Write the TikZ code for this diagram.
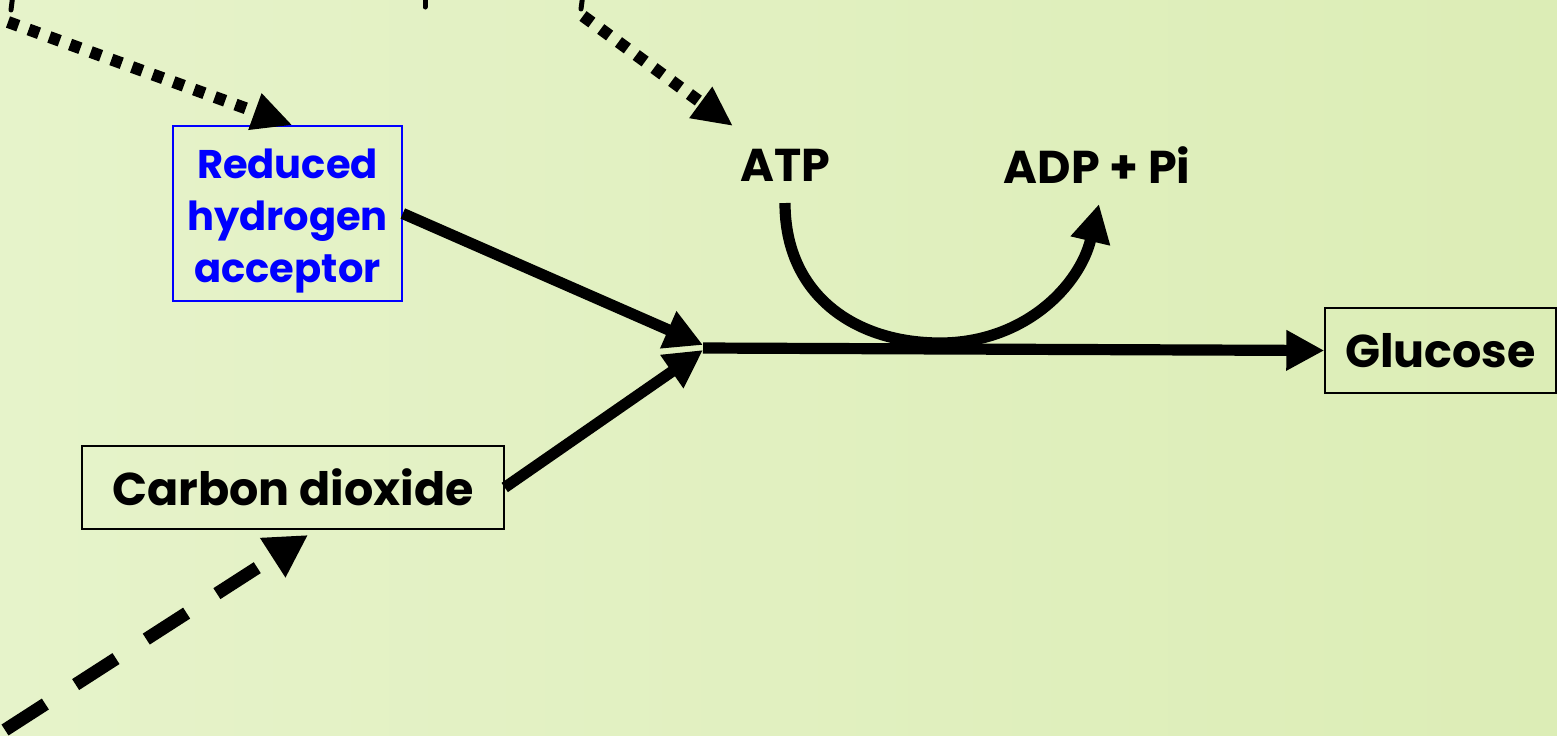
\documentclass[tikz,border=0pt]{standalone}
\usepackage{fontspec}
\setmainfont{Poppins}
\usetikzlibrary{arrows.meta}
\definecolor{bgA}{HTML}{E6F3CA}
\definecolor{bgB}{HTML}{DCEDB6}
\definecolor{boxblue}{HTML}{0000FF}
\tikzset{
  bigtext/.style={font=\bfseries\fontsize{23}{28}\selectfont, inner sep=0pt},
  blacklabel/.style={draw=black, line width=0.7pt, inner sep=0pt, font=\bfseries\fontsize{23}{28}\selectfont},
  fatarrow/.style={line width=5.6pt, -{Triangle[length=19pt,width=19pt]}},
  dotarrow/.style={line width=6pt, dash pattern=on 5.5pt off 5.5pt, -{Triangle[length=20pt,width=18pt]}},
  dasharrow/.style={line width=6.5pt, dash pattern=on 24pt off 18pt, -{Triangle[length=21pt,width=22pt]}},
  fragment/.style={line width=2.5pt, line cap=round}
}
\begin{document}
\begin{tikzpicture}[x=0.5pt,y=-0.5pt]
\fill[left color=bgA, right color=bgB] (0,0) rectangle (1557,735);
\useasboundingbox (0,0) rectangle (1557,735);
\begin{scope}
\clip (0,0) rectangle (1557,735);
% nodes
\node[draw=boxblue, line width=0.8pt, minimum width=114.5pt, minimum height=87.5pt, inner sep=0pt] (rha) at (287.5,213.5) {};
\node[text=boxblue, align=center, font=\bfseries\fontsize{20}{26}\selectfont, inner sep=0pt] (rhatext) at (287.5,221) {Reduced\\hydrogen\\acceptor};
\node[blacklabel, minimum width=211pt, minimum height=41.5pt] (co2) at (293,487.5) {Carbon dioxide};
\node[blacklabel, minimum width=115.5pt, minimum height=42.5pt] (glu) at (1440.5,350.5) {Glucose};
\node[bigtext] (atp) at (785,165) {ATP};
\node[bigtext] (adp) at (1097,165) {ADP + Pi};
% coordinates
\coordinate (j) at (703,348);
\coordinate (jt) at (703,345);
\coordinate (jb) at (703,350);
\coordinate (cs) at (785,203);
\coordinate (ce) at (1099,204);
\coordinate (d1s) at (8,22);
\coordinate (d2s) at (583,16);
\coordinate (dashs) at (5,730);
% connectors
\draw[fatarrow] (rha.east) -- (jt);
\draw[fatarrow] (co2.east) -- (jb);
\draw[fatarrow] (j) -- (glu.west);
\draw[fatarrow] (cs) .. controls (785,295) and (855,343) .. (940,343)
   .. controls (1025,343) and (1080,285) .. (ce);
\draw[dotarrow] (d1s) -- ([xshift=2.5pt]rha.north);
\draw[dotarrow] (d2s) -- (733,126);
\draw[dasharrow] (dashs) -- (308,535);
% cut-off fragments at the top edge
\draw[fragment] (13,-6) -- (11,10);
\draw[fragment] (425,-6) -- (425,7);
\draw[fragment] (583,-6) -- (581,9);
\end{scope}
\end{tikzpicture}
\end{document}
